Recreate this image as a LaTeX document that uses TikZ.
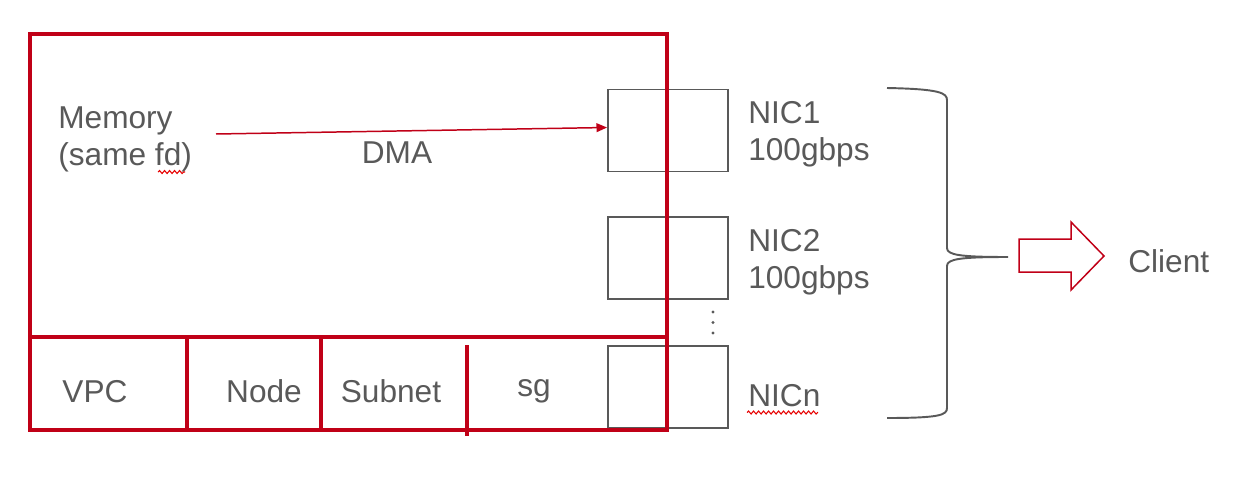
\documentclass[tikz,border=0pt]{standalone}
\usepackage{fontspec}
\setmainfont{Liberation Sans}
\usetikzlibrary{positioning,arrows.meta,decorations.pathmorphing}
\definecolor{hwred}{RGB}{192,0,23}
\definecolor{txtgray}{RGB}{89,89,89}
\definecolor{spellred}{RGB}{230,0,0}

\begin{document}
\begin{tikzpicture}[x=0.02cm, y=-0.02cm,
    lbl/.style={inner sep=0pt, text=txtgray, font=\fontsize{18}{21}\selectfont, align=left},
    nic/.style={draw=txtgray, line width=1.1pt, minimum width=2.4cm, minimum height=1.64cm, inner sep=0pt},
    hostbox/.style={draw=hwred, line width=2.2pt, minimum width=12.74cm, minimum height=7.92cm, inner sep=0pt},
    hostline/.style={draw=hwred, line width=2.2pt},
    spell/.style={draw=spellred, line width=0.6pt, decorate,
      decoration={snake, amplitude=0.03cm, segment length=0.1cm}},
    >={Triangle[length=6pt,width=5pt]}]
    \useasboundingbox (0,0) rectangle (1242,494);
    % network cards
    \node[nic] (nic1) at (668,130.5) {};
    \node[nic, below=0.88cm of nic1] (nic2) {};
    \node[nic, below=0.9cm of nic2] (nicn) {};
    \node[lbl, right=0.38cm of nic1, yshift=-0.08cm] (nic1lbl) {NIC1\\100gbps};
    \node[lbl, right=0.38cm of nic2, yshift=-0.08cm] (nic2lbl) {NIC2\\100gbps};
    \node[lbl, right=0.38cm of nicn, yshift=-0.16cm] (nicnlbl) {NICn};
    \foreach \y in {312,322.5,333}
      \fill[txtgray] (713,\y) circle (1.6);
    % host
    \node[hostbox] (host) at (348.5,232) {};
    \draw[hostline] (host.west |- 0,337) -- (host.east |- 0,337);
    \draw[hostline] (187,337) -- (187,430);
    \draw[hostline] (321,337) -- (321,430);
    \draw[hostline] (467,345) -- (467,436);
    \node[lbl, anchor=west] (mem) at (58,139.5) {Memory\\(same fd)};
    \node[lbl, anchor=base] (vpc) at (95,402) {VPC};
    \node[lbl, anchor=base] (node) at (264,402) {Node};
    \node[lbl, anchor=base] (subnet) at (391,402) {Subnet};
    \node[lbl, anchor=base] (sg) at (534,396) {sg};
    \coordinate (dmastart) at (216,134);
    \draw[hwred, line width=0.85pt, ->] (dmastart) -- ([yshift=0.06cm]nic1.west);
    \node[lbl, anchor=base] (dma) at (397,163) {DMA};
    \draw[spell] (158,172) -- (185,172);
    \draw[spell] (747,412.5) -- (818,412.5);
    % brace and client
    \draw[txtgray, line width=1.1pt] (887,88) .. controls (940,89) and (947,93) .. (947,100)
      -- (947,248) .. controls (947,255) and (960,257) .. (1008,257)
      .. controls (960,257) and (947,259) .. (947,266)
      -- (947,408) .. controls (947,415) and (940,418) .. (887,418);
    \draw[hwred, line width=0.85pt] (1019,239) -- (1071,239) -- (1071,222) -- (1104,256)
      -- (1071,290) -- (1071,272) -- (1019,272) -- cycle;
    \node[lbl, anchor=base west] (client) at (1128,272) {Client};
\end{tikzpicture}
\end{document}
